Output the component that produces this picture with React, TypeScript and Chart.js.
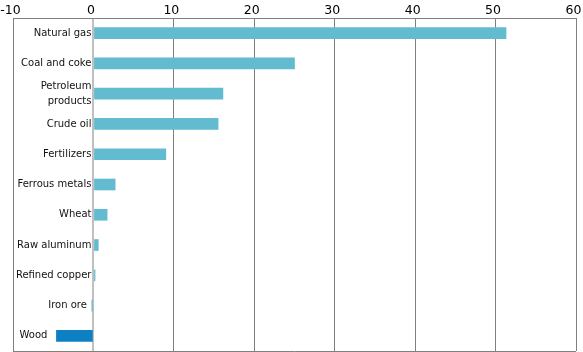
import React, { useEffect, useRef } from "react";
import { Chart, registerables } from "chart.js";

Chart.register(...registerables);

const categories: (string | string[])[] = [
  "Natural gas",
  "Coal and coke",
  ["Petroleum", "products"],
  "Crude oil",
  "Fertilizers",
  "Ferrous metals",
  "Wheat",
  "Raw aluminum",
  "Refined copper",
  "Iron ore",
  "Wood",
];
const values: number[] = [51.3, 25.0, 16.1, 15.5, 9.0, 2.7, 1.7, 0.6, 0.2, -0.2, -4.6];
const highlighted: string[] = ["Wood"];
const xTicks = { min: -10, max: 60, step: 10 };

const LIGHT = "#62bbcf";
const DARK = "#0d80c3";

const labelPlugin = {
  id: "barLabels",
  afterDatasetsDraw(chart: any) {
    const ctx = chart.ctx;
    const meta = chart.getDatasetMeta(0);
    ctx.save();
    ctx.font = '10px "DejaVu Sans"';
    ctx.fillStyle = "#111";
    ctx.textAlign = "right";
    ctx.textBaseline = "middle";
    meta.data.forEach((el: any, i: number) => {
      const v = values[i];
      const left = Math.min(el.x, el.base);
      const gap = v < -1 ? 9 : v < 0 ? 5 : 3;
      const lab = categories[i];
      const lines = Array.isArray(lab) ? lab : [lab];
      const lh = 15;
      const start = el.y - ((lines.length - 1) * lh) / 2;
      lines.forEach((t, k) => ctx.fillText(t, left - gap, start + k * lh));
    });
    ctx.restore();
  },
  afterDraw(chart: any) {
    const { ctx, chartArea } = chart;
    const xs = chart.scales.x;
    ctx.save();
    ctx.strokeStyle = "#808080";
    ctx.lineWidth = 1;
    ctx.beginPath();
    ctx.moveTo(chartArea.left, Math.round(chartArea.bottom) + 0.5);
    ctx.lineTo(chartArea.right, Math.round(chartArea.bottom) + 0.5);
    ctx.stroke();
    ctx.font = '12.5px "DejaVu Sans"';
    ctx.fillStyle = "#000";
    ctx.textAlign = "center";
    ctx.textBaseline = "alphabetic";
    xs.ticks.forEach((t: any) => {
      ctx.fillText(String(t.value), xs.getPixelForValue(t.value) - 2.5, 14);
    });
    ctx.restore();
  },
};

export default function App() {
  const ref = useRef<HTMLCanvasElement>(null);
  useEffect(() => {
    if (!ref.current) return;
    const chart = new Chart(ref.current, {
      type: "bar",
      data: {
        labels: categories as any,
        datasets: [
          {
            data: values,
            backgroundColor: categories.map((c) =>
              highlighted.includes(String(c)) ? DARK : LIGHT
            ),
            barThickness: 11,
            borderWidth: 0,
          },
        ],
      },
      options: {
        indexAxis: "y",
        animation: false,
        responsive: false,
        layout: { padding: { left: 13, right: 7, top: 0, bottom: 1 } },
        plugins: { legend: { display: false }, tooltip: { enabled: false } },
        scales: {
          x: {
            position: "top",
            min: xTicks.min,
            max: xTicks.max,
            afterFit: (s: any) => {
              s.paddingLeft = 0;
              s.paddingRight = 0;
              s.height = 18;
            },
            ticks: {
              stepSize: xTicks.step,
              display: false,
            },
            grid: {
              drawTicks: false,
              color: (c: any) => (c.tick && c.tick.value === 0 ? "#c0c0c0" : "#808080"),
              lineWidth: (c: any) => (c.tick && c.tick.value === 0 ? 2 : 1),
            },
            border: { display: true, color: "#808080" },
          },
          y: {
            display: false,
          },
        },
      },
      plugins: [labelPlugin],
    });
    return () => chart.destroy();
  }, []);
  return (
    <div style={{ position: "absolute", left: 0, top: 0, width: 583, height: 352 }}>
      <canvas ref={ref} width={583} height={352} />
    </div>
  );
}
